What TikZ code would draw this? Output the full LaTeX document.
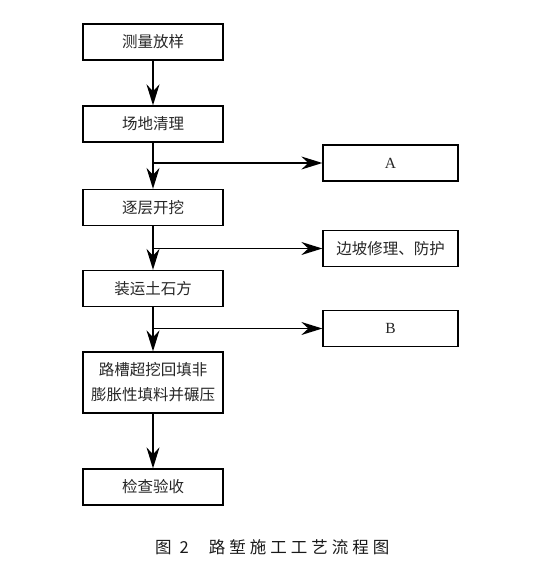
\documentclass[tikz,border=0pt]{standalone}
\usepackage{fontspec}
\newfontfamily\cjk{Noto Sans CJK SC}
\newfontfamily\lat{Liberation Serif}
\usetikzlibrary{arrows.meta}
\tikzset{
  box/.style={draw=black, line width=1.3pt, minimum width=140pt, minimum height=36pt, inner sep=0pt, font=\cjk\fontsize{15.5}{25}\selectfont, text=black!85, align=center},
  rbox/.style={box, minimum width=135pt},
  flow/.style={line width=1.5pt, -{Stealth[length=21pt, width=13pt, inset=7pt]}},
  capt/.style={font=\cjk\fontsize{16.5}{20}\selectfont, text=black!90, inner sep=0pt}
}
\begin{document}
\begin{tikzpicture}[x=1pt, y=-1pt]
\useasboundingbox (0,0) rectangle (558,569);
\node[box] (b1) at (153,42) {测量放样};
\node[box] (b2) at (153,124) {场地清理};
\node[box] (b3) at (153,207.5) {逐层开挖};
\node[box] (b4) at (153,288.5) {装运土石方};
\node[box, minimum height=61pt] (b5) at (153,382.5) {路槽超挖回填非\\膨胀性填料并碾压};
\node[box] (b6) at (153,487) {检查验收};
\node[rbox] (ra) at (390.5,163) {\lat A};
\node[rbox] (rb) at (390.5,248.5) {边坡修理、防护};
\node[rbox] (rc) at (390.5,328.5) {\lat B};
\draw[flow] (b1) -- (b2);
\draw[flow] (b2) -- (b3);
\draw[flow] (b3) -- (b4);
\draw[flow] (b4) -- (b5);
\draw[flow] (b5) -- (b6);
\coordinate (ja) at (b2.south |- ra.west);
\coordinate (jb) at (b3.south |- rb.west);
\coordinate (jc) at (b4.south |- rc.west);
\draw[flow] (ja) -- (ra.west);
\draw[flow] (jb) -- (rb.west);
\draw[flow] (jc) -- (rc.west);
\node[capt, anchor=west] (cap) at (155,547) {图\hspace{8pt}2\hspace{20pt}路\hspace{4pt}堑\hspace{4pt}施\hspace{4pt}工\hspace{4pt}工\hspace{4pt}艺\hspace{4pt}流\hspace{4pt}程\hspace{4pt}图};
\end{tikzpicture}
\end{document}
